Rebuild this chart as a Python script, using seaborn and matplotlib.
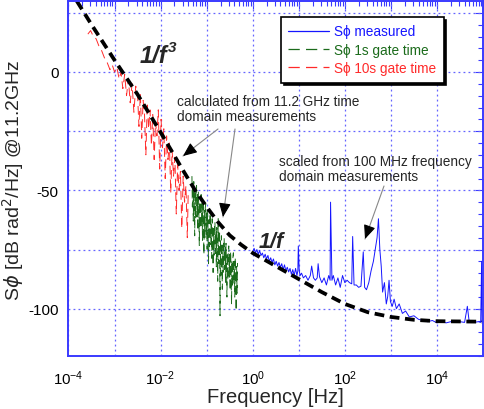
import numpy as np
import pandas as pd
import matplotlib
matplotlib.use("Agg")
import matplotlib.pyplot as plt
import matplotlib.ticker as mticker
from matplotlib.lines import Line2D
import seaborn as sns

# ---------------- data ----------------
# model curve (dashed black): log10(frequency) and dB
model_log10_f = [-3.82, -3.5, -3.0, -2.5, -2.0, -1.5, -1.25, -1.0, -0.75, -0.5,
                 -0.25, 0.0, 0.5, 1.0, 1.5, 2.0, 2.5, 3.0, 3.5, 4.0, 5.0]
model_db = [30, 20, 5, -9.5, -25.5, -42, -50, -57, -63.5, -69,
            -73, -76.5, -82, -87.5, -93, -98, -101.5, -103.5, -104.7, -105.3, -105.5]

# S_phi 10s gate time (red)
red_log10_f = [-3.58, -3.52, -3.46, -3.40, -3.34, -3.28, -3.22, -3.16, -3.10, -3.05,
               -3.00, -2.95, -2.90, -2.86, -2.82, -2.78, -2.74, -2.70, -2.66, -2.62,
               -2.58, -2.54, -2.50, -2.47, -2.44, -2.41, -2.38, -2.35, -2.32, -2.29,
               -2.26, -2.23, -2.20, -2.17, -2.14, -2.11, -2.08, -2.05, -2.02, -1.99,
               -1.96, -1.93, -1.90, -1.87, -1.84, -1.81, -1.78, -1.75, -1.72, -1.69,
               -1.66, -1.63, -1.60, -1.57, -1.54, -1.51, -1.48, -1.45, -1.42, -1.40]
red_db = [16, 17.5, 15, 14, 11, 9, 6, 4, 1, 3,
          0, 2, -3, 0, -7, -1, -10, -3, -13, -5,
          -17, -6, -10, -23, -9, -28, -12, -18, -35, -13,
          -24, -16, -31, -18, -37, -21, -27, -16, -41, -20,
          -32, -24, -45, -27, -37, -30, -51, -33, -44, -36,
          -60, -39, -50, -42, -66, -44, -55, -48, -70, -50]

# S_phi 1s gate time (green)
green_log10_f = [-1.32, -1.31, -1.30, -1.29, -1.28, -1.27, -1.26, -1.25, -1.24, -1.23,
                 -1.22, -1.21, -1.20, -1.19, -1.18, -1.17, -1.16, -1.15, -1.14, -1.13,
                 -1.12, -1.11, -1.10, -1.09, -1.08, -1.07, -1.06, -1.05, -1.04, -1.03,
                 -1.02, -1.01, -1.00, -0.99, -0.98, -0.97, -0.96, -0.95, -0.94, -0.93,
                 -0.92, -0.91, -0.90, -0.89, -0.88, -0.87, -0.86, -0.85, -0.84, -0.83,
                 -0.82, -0.81, -0.80, -0.79, -0.78, -0.77, -0.76, -0.75, -0.74, -0.73,
                 -0.72, -0.71, -0.70, -0.69, -0.68, -0.67, -0.66, -0.65, -0.64, -0.63,
                 -0.62, -0.61, -0.60, -0.59, -0.58, -0.57, -0.56, -0.55, -0.54, -0.53,
                 -0.52, -0.51, -0.50, -0.49, -0.48, -0.47, -0.46, -0.45, -0.44, -0.43,
                 -0.42, -0.41, -0.40, -0.39, -0.38, -0.37, -0.36, -0.35, -0.34, -0.33]
green_db = [-44.0, -57.0, -47.6, -63.0, -46.3, -55.8, -69.2, -50.6, -62.0, -49.4,
            -47.9, -61.3, -51.7, -67.0, -50.5, -59.9, -73.3, -54.7, -66.1, -53.5,
            -51.8, -65.2, -55.6, -71.1, -54.4, -63.8, -77.2, -58.6, -70.0, -57.4,
            -55.7, -69.1, -59.6, -74.9, -58.3, -67.7, -81.0, -62.4, -73.8, -61.1,
            -59.5, -72.9, -63.3, -78.7, -62.0, -71.4, -84.7, -66.1, -77.4, -64.8,
            -63.3, -76.6, -67.0, -82.3, -65.7, -75.1, -88.4, -62.0, -81.1, -68.6,
            -66.9, -103.0, -70.6, -85.9, -69.2, -78.5, -91.8, -73.1, -84.6, -71.9,
            -70.2, -83.5, -73.8, -89.1, -72.4, -81.8, -95.1, -76.4, -87.7, -75.1,
            -73.5, -86.7, -77.0, -92.4, -75.7, -84.9, -98.2, -79.5, -90.8, -78.1,
            -76.4, -89.6, -79.9, -95.1, -78.4, -87.6, -100.9, -82.2, -93.5, -80.7]

# S_phi measured (blue)
blue_log10_f = [0.00, 0.03, 0.06, 0.09, 0.12, 0.15, 0.18, 0.21, 0.24, 0.27,
                0.30, 0.33, 0.36, 0.39, 0.42, 0.45, 0.48, 0.51, 0.54, 0.57,
                0.60, 0.63, 0.66, 0.69, 0.72, 0.75, 0.78, 0.81, 0.84, 0.87,
                0.90, 0.93, 0.96, 0.98, 0.99, 1.01, 1.03, 1.06, 1.10, 1.15,
                1.20, 1.25, 1.28, 1.32, 1.36, 1.40, 1.42, 1.45, 1.50, 1.55,
                1.60, 1.65, 1.68, 1.69, 1.72, 1.75, 1.80, 1.85, 1.90, 1.95,
                2.00, 2.05, 2.10, 2.15, 2.17, 2.20, 2.25, 2.30, 2.35, 2.40,
                2.43, 2.47, 2.52, 2.57, 2.62, 2.66, 2.70, 2.73, 2.76, 2.79,
                2.82, 2.86, 2.90, 2.93, 2.96, 2.99, 3.03, 3.07, 3.12, 3.18,
                3.25, 3.32, 3.40, 3.50, 3.60, 3.70, 3.80, 3.90, 4.00, 4.10,
                4.20, 4.30, 4.40, 4.50, 4.60, 4.66, 4.70, 4.80, 4.90, 4.95,
                4.97, 4.98, 5.00]
blue_db = [-76, -74.5, -76.5, -75, -77, -75.5, -77.5, -76.5, -78.5, -77,
           -79, -77.5, -80, -78.5, -80.5, -79, -81.5, -80, -82, -80.5,
           -82.5, -81, -83.5, -81.5, -84, -82.5, -84.5, -83, -85.5, -83.5,
           -86, -83, -86, -84, -73.5, -84, -86, -85, -87, -86,
           -88, -86, -82, -87, -88, -87, -81, -86.5, -89, -87,
           -90, -86, -88, -55, -88, -86, -90, -87, -91, -86,
           -89, -88, -89, -89.5, -69.5, -90, -90, -91, -90.5, -76,
           -91, -92, -89, -84, -80, -75, -70, -62, -75, -82,
           -93, -89, -98, -95, -88, -97, -99, -96, -100, -98,
           -102, -101, -103.5, -103, -104.5, -105, -105.5, -105, -106, -105.5,
           -106, -105.5, -105.8, -105.5, -105.8, -99, -105.5, -105.8, -105.5, -105.8,
           -80, -105.5, -105.3]

x_tick_exponents = [-4, -3, -2, -1, 0, 1, 2, 3, 4, 5]
y_tick_values = [-100, -75, -50, -25, 0, 25]

legend_labels = ["S\u03d5 measured", "S\u03d5 1s gate time", "S\u03d5 10s gate time"]

# ---------------- style ----------------
sns.set_style("white")
plt.rcParams["font.family"] = ["Liberation Sans", "DejaVu Sans"]
plt.rcParams["mathtext.fontset"] = "dejavusans"

W, H = 485, 410
fig = plt.figure(figsize=(W / 100, H / 100), dpi=100)
AX_L, AX_R, AX_T, AX_B = 68.5, 483.0, 2.0, 357.0
ax = fig.add_axes([AX_L / W, 1 - AX_B / H, (AX_R - AX_L) / W, (AX_B - AX_T) / H])

def P(x, y):
    return (x / W, 1 - y / H)

BLUE = "#1515ff"
GREEN = "#1b6b1b"
RED = "#ff2a2a"
AXBLUE = "#3a3aff"
GRIDBLUE = "#6464ff"
DASH = (0, (9, 5))

df_red = pd.DataFrame({"f": 10 ** np.array(red_log10_f), "db": red_db})
df_green = pd.DataFrame({"f": 10 ** np.array(green_log10_f), "db": green_db})
df_blue = pd.DataFrame({"f": 10 ** np.array(blue_log10_f), "db": blue_db})
df_model = pd.DataFrame({"f": 10 ** np.array(model_log10_f), "db": model_db})

ax.set_xscale("log")
ax.set_xlim(1e-4, 1e5)
ax.set_ylim(-120, 30)

# grid lines at decades / every 25 dB
for e in x_tick_exponents:
    ax.axvline(10.0 ** e, color=GRIDBLUE, lw=0.9, linestyle=(0, (1.5, 2.5)), zorder=0.8)
for v in y_tick_values:
    ax.axhline(v, color=GRIDBLUE, lw=0.9, linestyle=(0, (1.5, 2.5)), zorder=0.8)

sns.lineplot(data=df_blue, x="f", y="db", ax=ax, color=BLUE, lw=0.7,
             estimator=None, sort=False, legend=False)
sns.lineplot(data=df_green, x="f", y="db", ax=ax, color=GREEN, lw=0.7,
             estimator=None, sort=False, linestyle=DASH, legend=False)
sns.lineplot(data=df_red, x="f", y="db", ax=ax, color=RED, lw=0.7,
             estimator=None, sort=False, linestyle=DASH, legend=False)
sns.lineplot(data=df_model, x="f", y="db", ax=ax, color="black", lw=2.7,
             estimator=None, sort=False, linestyle=(0, (2.6, 1.5)), legend=False)

ax.set_xlim(1e-4, 1e5)
ax.set_ylim(-120, 30)

# ticks
ax.xaxis.set_major_locator(mticker.FixedLocator([10.0 ** e for e in x_tick_exponents]))
ax.xaxis.set_minor_locator(mticker.LogLocator(base=10, subs=np.arange(2, 10), numticks=50))
def xfmt(v, pos):
    e = int(round(np.log10(v)))
    return r"$\mathdefault{10^{%d}}$" % e if e % 2 == 0 and e < 5 else ""
ax.xaxis.set_major_formatter(mticker.FuncFormatter(xfmt))
ax.xaxis.set_minor_formatter(mticker.NullFormatter())
ax.yaxis.set_major_locator(mticker.FixedLocator(y_tick_values))
ax.yaxis.set_minor_locator(mticker.MultipleLocator(5))
ax.yaxis.set_major_formatter(mticker.FuncFormatter(
    lambda v, pos: ("%d" % v) if int(v) % 50 == 0 else ""))
ax.tick_params(which="both", direction="in", top=True, right=True, color=AXBLUE,
               labelsize=11, labelcolor="black", width=0.8)
ax.tick_params(which="major", length=6, pad=7)
ax.tick_params(which="minor", length=3.5)
ax.tick_params(axis="x", which="major", labelsize=10.8, pad=9)

for s in ax.spines.values():
    s.set_color(AXBLUE)
    s.set_linewidth(1.4)

ax.set_xlabel("Frequency [Hz]", fontsize=14.5)
ax.set_ylabel(r"S$\phi$ [dB rad$^2$/Hz] @11.2GHz", fontsize=14)
ax.xaxis.set_label_coords(((AX_L + AX_R) / 2 - AX_L) / (AX_R - AX_L), (AX_B - 388) / (AX_B - AX_T))
ax.yaxis.set_label_coords((26 - AX_L) / (AX_R - AX_L), (AX_B - 180) / (AX_B - AX_T))

# legend
handles = [Line2D([0], [0], color=BLUE, lw=0.9, linestyle="-"),
           Line2D([0], [0], color=GREEN, lw=0.9, linestyle=DASH),
           Line2D([0], [0], color=RED, lw=0.9, linestyle=DASH)]
leg = ax.legend(handles, legend_labels, loc="upper left",
                bbox_to_anchor=((281 - AX_L) / (AX_R - AX_L), (AX_B - 18) / (AX_B - AX_T)),
                frameon=True, fancybox=False, shadow={"color": "black", "alpha": 1.0},
                edgecolor="black", fontsize=9.8, handlelength=3.0, handletextpad=0.35,
                labelspacing=0.32, borderpad=0.55, borderaxespad=0)
leg.get_frame().set_linewidth(1.2)
for t, h, c in zip(leg.get_texts(), leg.get_lines(), [BLUE, GREEN, RED]):
    t.set_color(c)
    h.set_color(c)

# labels on curve
fig.text(*P(140, 63), "1/f", fontsize=17, fontweight="bold", fontstyle="italic",
         va="baseline", ha="left")
fig.text(*P(168, 51.5), "3", fontsize=11, fontweight="bold", fontstyle="italic",
         va="baseline", ha="left")
fig.text(*P(259, 248), "1/f", fontsize=15.5, fontweight="bold", fontstyle="italic",
         va="baseline", ha="left")

# annotations
fig.text(*P(177, 95), "calculated from 11.2 GHz time\ndomain measurements",
         fontsize=9.8, va="top", ha="left", linespacing=1.05)
fig.text(*P(279, 155), "scaled from 100 MHz frequency\ndomain measurements",
         fontsize=9.8, va="top", ha="left", linespacing=1.05)

def arrow(x0, y0, x1, y1):
    ax.annotate("", xy=P(x1, y1), xytext=P(x0, y0), xycoords="figure fraction",
                textcoords="figure fraction",
                arrowprops=dict(arrowstyle="-", color="#888888", lw=0.8,
                                shrinkA=0, shrinkB=0))
    L = np.hypot(x1 - x0, y1 - y0)
    hx, hy = x1 - (x1 - x0) / L * 10, y1 - (y1 - y0) / L * 10
    ax.annotate("", xy=P(x1, y1), xytext=P(hx, hy), xycoords="figure fraction",
                textcoords="figure fraction",
                arrowprops=dict(arrowstyle="-|>,head_length=0.7,head_width=0.3",
                                color="black", lw=0.8, shrinkA=0, shrinkB=0,
                                mutation_scale=12))

arrow(218, 130, 183, 157)
arrow(235, 130, 223, 218)
arrow(384, 187, 365, 240)

fig.savefig("out.png", dpi=100)
